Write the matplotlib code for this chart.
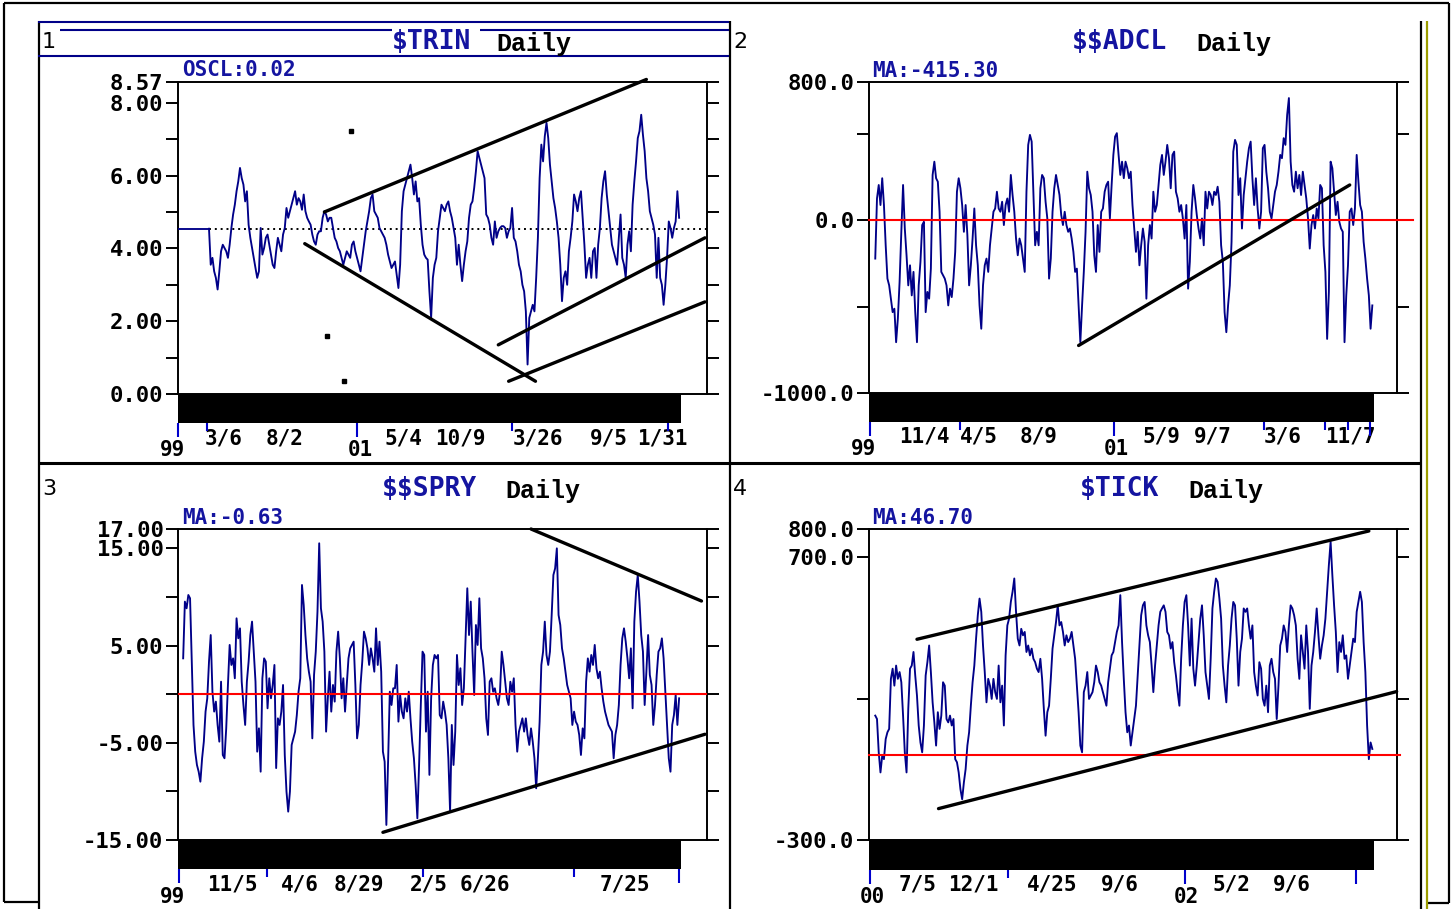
import numpy as np
import matplotlib
matplotlib.use("Agg")
import matplotlib.pyplot as plt

W, H = 1452, 909
NAVY = "#000088"
TXTBLUE = "#1414a0"
TICKBLUE = "#0000cc"
MONO = "DejaVu Sans Mono"

# ---------------- data (day index) ----------------
# Panel 1: $TRIN (sampled every 5 trading days, first sample at day 90)
trin_start, trin_step = 90, 5
trin_values = [
    4.54, 3.55, 3.74, 3.37, 3.19, 2.87, 3.37, 3.92, 4.10, 4.01, 3.92, 3.74, 4.10, 4.56, 4.93, 5.20,
    5.57, 5.84, 6.21, 5.93, 5.75, 5.29, 5.57, 4.65, 4.29, 4.01, 3.74, 3.46, 3.19, 3.37, 4.56, 3.83,
    4.01, 4.29, 4.38, 4.10, 3.83, 3.55, 3.46, 3.92, 4.29, 4.10, 3.92, 4.38, 4.56, 5.11, 4.84, 5.02,
    5.20, 5.38, 5.57, 5.20, 5.38, 5.29, 5.06, 5.48, 5.02, 4.84, 4.74, 4.65, 4.38, 4.19, 4.10, 4.38,
    4.47, 4.47, 4.84, 5.02, 4.93, 4.74, 4.84, 4.84, 4.56, 4.29, 4.19, 4.01, 3.92, 3.74, 3.55, 3.74,
    3.92, 3.83, 3.74, 4.10, 4.19, 3.92, 3.74, 3.55, 3.37, 3.74, 4.10, 4.47, 4.74, 5.02, 5.38, 5.48,
    5.02, 4.93, 4.84, 4.56, 4.47, 4.38, 4.29, 4.10, 3.83, 3.64, 3.46, 3.55, 3.64, 3.28, 2.91, 3.55,
    5.02, 5.57, 5.75, 5.93, 6.12, 6.30, 5.93, 5.48, 5.84, 5.29, 5.38, 4.65, 4.10, 3.83, 3.74, 3.69,
    2.82, 2.09, 3.19, 3.55, 3.74, 4.47, 4.84, 5.20, 5.11, 5.02, 5.20, 5.29, 5.02, 4.84, 4.56, 4.29,
    3.55, 4.10, 3.55, 3.10, 3.55, 3.92, 4.19, 4.84, 5.20, 5.29, 5.66, 6.12, 6.67, 6.48, 6.30, 6.12,
    5.93, 4.93, 4.84, 4.65, 4.29, 4.10, 4.74, 4.29, 4.47, 4.56, 4.61, 4.61, 4.56, 4.29, 4.47, 4.56,
    5.11, 4.29, 4.19, 3.92, 3.55, 3.37, 3.00, 2.82, 2.27, 0.81, 2.09, 2.27, 2.45, 2.27, 3.19, 4.29,
    5.93, 6.85, 6.39, 7.08, 7.45, 7.03, 6.30, 5.84, 5.38, 5.11, 4.74, 4.29, 3.55, 2.55, 3.19, 3.37,
    3.00, 3.92, 4.29, 4.74, 5.48, 5.29, 5.02, 5.38, 5.57, 4.84, 4.10, 3.19, 3.55, 3.74, 3.19, 3.92,
    4.01, 3.19, 4.10, 4.56, 5.38, 5.84, 6.12, 5.48, 5.02, 4.56, 4.10, 3.92, 3.74, 3.55, 4.29, 4.93,
    3.74, 3.55, 3.19, 4.10, 4.47, 3.92, 5.20, 5.84, 6.39, 7.03, 7.22, 7.67, 7.12, 6.67, 5.93, 5.57,
    5.02, 4.84, 4.65, 4.38, 3.19, 4.29, 3.19, 3.00, 2.45, 3.00, 3.74, 4.74, 4.56, 4.29, 4.56, 4.74,
    5.57, 4.84,
]
trin_average = 4.54
trin_trend_x = [[425, 1360], [368, 1038], [960, 1530], [930, 1530]]
trin_trend_y = [[5.00, 8.64], [4.13, 0.35], [0.35, 2.53], [1.35, 4.29]]
trin_dots_x = [503, 433, 483]
trin_dots_y = [7.23, 1.60, 0.37]

# Panel 2: $$ADCL
adcl_start, adcl_step = 18, 5
adcl_values = [
    -222, 126, 204, 88, 243, 88, -145, -338, -377, -454, -532, -512, -706, -570, -357, -67,
    204, -48, -203, -377, -261, -435, -299, -532, -706, -377, -241, -28, -9, -532, -415, -454,
    -280, 262, 339, 243, 223, 49, -299, -319, -338, -377, -493, -396, -445, -338, -183, 165,
    243, 185, 88, -67, 88, -86, -377, -261, -106, 68, -145, -261, -493, -628, -377, -261,
    -222, -299, -145, -48, 49, 68, 165, 68, 49, 107, -28, 88, 126, 49, 262, 146,
    49, -106, -203, -106, -145, -222, -299, 165, 436, 494, 455, 146, -145, -67, -145, 185,
    262, 243, 107, 10, -338, -222, 49, 185, 262, 204, 146, 30, -28, 49, -28, -67,
    -48, -106, -183, -299, -280, -493, -706, -493, -299, -67, 281, 185, 146, 49, -203, -299,
    -28, -183, 49, 68, 165, 204, 223, 10, 204, 378, 484, 504, 378, 262, 339, 243,
    339, 301, 243, 281, 88, -48, -183, -67, -261, -145, -48, -125, -454, -145, -28, -106,
    165, 49, 88, 204, 320, 378, 262, 339, 436, 359, 185, 378, 397, 165, 126, 49,
    88, 10, -106, 88, -396, -241, 49, 204, 126, 30, -48, -106, 10, -145, 165, 68,
    165, 146, 88, 165, 146, 194, 107, -145, -241, -532, -648, -493, -377, -125, 397, 465,
    436, 146, 243, -48, 146, 243, 339, 417, 455, 243, 88, 243, 68, -48, 49, 417,
    436, 281, 185, 49, 10, 88, 165, 204, 281, 378, 359, 475, 436, 610, 707, 339,
    204, 165, 281, 185, 262, 146, 281, 204, 126, 10, -164, -28, 30, -48, 68, 10,
    204, 185, -145, -299, -687, -415, 339, 301, 165, 30, 107, -9, -48, -67, -706, -435,
    -261, 49, 68, -28, 68, 378, 223, 88, 49, -125, -222, -338, -435, -628, -493,
]
adcl_trend_x = [[603, 1383]]
adcl_trend_y = [[-725, 204]]

# Panel 3: $$SPRY
spry_start, spry_step = 15, 5
spry_values = [
    3.69, 9.53, 8.84, 10.21, 9.87, 3.35, -3.16, -5.91, -7.28, -7.97, -9.00, -6.59, -4.88, -1.79, -0.42, 3.35,
    6.09, 0.26, -1.79, -0.76, -3.16, -4.88, 1.29, -6.25, -6.59, -3.51, 0.95, 5.07, 3.01, 3.69, 1.64, 7.81,
    5.75, 6.78, 1.29, -1.11, -3.16, 1.29, 3.35, 6.09, 7.47, 4.38, 1.29, -5.91, -3.51, -7.97, 1.64, 3.69,
    3.35, -1.45, 1.64, -0.42, 0.95, 3.01, -7.60, -2.48, -3.16, -1.79, 0.95, -6.25, -10.02, -12.08, -10.02, -5.22,
    -4.54, -3.85, -2.14, 0.26, 1.64, 11.24, 9.18, 6.09, 3.69, 2.32, 1.29, -4.54, 1.98, 4.38, 8.50, 15.53,
    8.84, 7.47, 4.38, -3.85, -0.42, 2.32, -1.79, 0.95, -0.76, 4.38, 6.44, 3.69, -0.42, 1.64, -1.79, 0.95,
    3.69, 4.72, 5.07, 5.41, 0.95, -4.54, -3.16, 0.95, 3.35, 6.44, 5.75, 4.72, 3.01, 4.72, 3.69, 2.32,
    6.78, 3.01, 5.41, 2.32, -5.91, -6.94, -13.45, -6.94, 0.26, -1.11, 0.61, 0.61, 3.01, -2.82, -0.08, -1.79,
    -2.48, -0.42, -1.79, 0.26, -2.48, -4.88, -6.59, -9.34, -12.77, -7.28, -1.11, 4.38, 4.04, -3.85, 0.26, -8.30,
    -0.42, 3.01, 4.04, 3.69, 4.04, -2.14, -2.48, -0.76, -1.79, -3.16, -6.59, -12.08, -3.16, -7.28, -3.85, 4.04,
    0.95, 2.67, -1.11, 0.61, 5.75, 10.90, 6.09, 9.53, 4.38, -0.08, 7.12, 5.07, 9.87, 4.72, 3.69, 1.64,
    -2.48, -4.19, 1.29, 1.64, 0.26, 0.61, -0.42, -1.11, 0.26, 4.38, 3.01, 1.29, -0.42, -1.11, 1.29, 0.26,
    1.64, -3.16, -5.91, -3.85, -3.16, -2.48, -3.85, -2.48, -4.19, -5.22, -3.51, -4.88, -6.59, -9.68, -6.59, -2.82,
    3.01, 4.38, 7.47, 4.04, 3.01, 4.38, 8.15, 12.27, 12.95, 15.01, 8.15, 7.12, 4.72, 3.69, 2.32, 0.95,
    0.26, -0.42, -3.16, -1.79, -2.82, -3.16, -4.19, -6.25, -3.51, -4.54, 1.29, 3.69, 2.32, 4.04, 3.01, 5.07,
    2.67, 1.64, 2.32, 0.61, -0.76, -1.79, -2.48, -3.16, -3.51, -3.85, -6.59, -4.19, -3.16, -1.11, 3.01, 5.75,
    6.78, 5.41, 3.69, 1.64, 4.72, -1.45, 7.47, 10.55, 12.27, 9.53, 6.09, 4.38, -1.11, 2.32, 6.09, 1.98,
    0.95, -3.16, -1.11, 1.98, 4.38, 4.72, 5.75, 3.69, 0.26, -3.16, -6.59, -7.97, -3.16, -2.14, -0.08, -3.16,
    -0.42,
]
spry_trend_x = [[1025, 1520], [595, 1530]]
spry_trend_y = [[17.0, 9.59], [-14.21, -4.12]]

# Panel 4: $TICK
tick_start, tick_step = 18, 5
tick_values = [
    140, 128, 10, -61, -2, -14, 57, 81, 93, 270, 306, 246, 317, 270, 294, 258,
    140, 10, -61, 164, 306, 317, 365, 282, 211, 105, 45, 10, 105, 282, 329, 388,
    294, 187, 116, 34, 152, 93, 140, 258, 246, 128, 116, 140, 105, 128, -14, -25,
    -61, -120, -156, -96, -49, 34, 81, 175, 258, 317, 412, 495, 554, 507, 388, 294,
    187, 270, 246, 199, 270, 223, 199, 317, 187, 246, 105, 353, 459, 483, 542, 578,
    625, 507, 412, 388, 447, 424, 436, 365, 388, 353, 377, 341, 329, 306, 294, 341,
    270, 164, 69, 152, 175, 270, 377, 424, 471, 530, 459, 471, 436, 388, 424, 400,
    412, 436, 388, 341, 246, 152, 34, 10, 223, 246, 294, 199, 211, 223, 258, 317,
    294, 258, 246, 223, 199, 175, 258, 306, 353, 365, 400, 436, 459, 566, 400, 270,
    152, 81, 105, 34, 81, 128, 175, 282, 388, 495, 530, 542, 459, 424, 400, 317,
    223, 317, 388, 459, 507, 519, 530, 507, 436, 424, 377, 400, 329, 282, 223, 175,
    341, 459, 542, 566, 459, 317, 483, 306, 246, 317, 400, 483, 530, 424, 294, 246,
    199, 341, 519, 578, 625, 613, 554, 483, 317, 246, 187, 317, 388, 483, 542, 530,
    412, 246, 365, 412, 519, 507, 519, 459, 412, 459, 294, 246, 211, 329, 306, 199,
    175, 246, 152, 317, 341, 294, 270, 128, 246, 388, 412, 459, 436, 365, 459, 530,
    519, 495, 459, 341, 270, 424, 365, 306, 459, 365, 164, 317, 365, 436, 519, 424,
    341, 388, 424, 483, 578, 673, 755, 637, 530, 436, 294, 400, 365, 424, 341, 353,
    270, 317, 365, 412, 400, 507, 542, 578, 542, 400, 294, 105, -14, 45, 22,
]
tick_trend_x = [[138, 1438], [200, 1518]]
tick_trend_y = [[410, 793], [-189, 225]]

# axis labels / ticks
trin_major = [0, 2, 4, 6, 8, 8.57]
trin_major_labels = ["0.00", "2.00", "4.00", "6.00", "8.00", "8.57"]
trin_minor = [1, 3, 5, 7]
adcl_major = [-1000, 0, 800]
adcl_major_labels = ["-1000.0", "0.0", "800.0"]
adcl_minor = [-500, 500]
spry_major = [-15, -5, 5, 15, 17]
spry_major_labels = ["-15.00", "-5.00", "5.00", "15.00", "17.00"]
spry_minor = [-10, 0, 10]
tick_major = [-300, 700, 800]
tick_major_labels = ["-300.0", "700.0", "800.0"]
tick_minor = [200]

# date ticks (day index) on the band under each panel
trin_year_ticks, trin_month_ticks = [0, 520], [84, 971, 1423]
adcl_year_ticks, adcl_month_ticks = [3, 706, 1441], [262, 1136, 1312, 1378]
spry_year_ticks, spry_month_ticks = [3, 1455], [258, 711, 1150]
tick_year_ticks, tick_month_ticks = [3, 909, 1401], [400]

trin_dates_top = ["3/6", "8/2", "5/4", "10/9", "3/26", "9/5", "1/31"]
trin_dates_low = ["99", "01"]
adcl_dates_top = ["11/4", "4/5", "8/9", "5/9", "9/7", "3/6", "11/7"]
adcl_dates_low = ["99", "01"]
spry_dates_top = ["11/5", "4/6", "8/29", "2/5", "6/26", "7/25"]
spry_dates_low = ["99"]
tick_dates_top = ["7/5", "12/1", "4/25", "9/6", "5/2", "9/6"]
tick_dates_low = ["00", "02"]

# ---------------- figure ----------------
plt.rcParams["text.usetex"] = False
fig = plt.figure(figsize=(W / 100, H / 100), dpi=100)
fig.patch.set_facecolor("white")
bg = fig.add_axes([0, 0, 1, 1])
bg.set_xlim(0, W)
bg.set_ylim(H, 0)
bg.axis("off")
bg.set_zorder(0)


def px_axes(x0, y0, x1, y1):
    return fig.add_axes([x0 / W, 1 - y1 / H, (x1 - x0) / W, (y1 - y0) / H])


def hline(y, x0, x1, color="black", lw=1.5):
    bg.plot([x0, x1], [y, y], color=color, lw=lw, solid_capstyle="butt")


def vline(x, y0, y1, color="black", lw=1.5):
    bg.plot([x, x], [y0, y1], color=color, lw=lw, solid_capstyle="butt")


# outer window border
vline(4, 3, 902, lw=1.6)
hline(3, 4, 1449, lw=1.6)
vline(1449, 3, 903, lw=1.6)
hline(902, 4, 38, lw=1.6)
hline(903, 1427, 1449, lw=1.6)
# chart window frame
vline(38.5, 21, 909, lw=1.6)
vline(729.5, 21, 909, lw=1.6)
vline(1420.5, 21, 909, lw=1.6)
vline(1427, 21, 909, color="#9c9c00", lw=1.6)
hline(463, 38, 1421, lw=2.2)
# selected title bar of panel 1
hline(22, 38, 729, color=NAVY, lw=1.5)
hline(30, 60, 392, color=NAVY, lw=1.5)
hline(30, 480, 729, color=NAVY, lw=1.5)
hline(56, 38, 729, color=NAVY, lw=1.5)


def panel(box, band_bottom, xmax, start, step, vals, ylim, major, major_labels, minor,
          year_ticks, month_ticks):
    days = start + step * np.arange(len(vals))
    ax = px_axes(*box)
    ax.set_facecolor("none")
    ax.set_xlim(0, xmax)
    ax.set_ylim(*ylim)
    ax.plot(days, vals, color=NAVY, lw=1.35, zorder=3)
    ax.set_xticks([])
    ax.set_yticks(major, major_labels, fontfamily=MONO, fontweight="bold", fontsize=16)
    ax.set_yticks(minor, minor=True)
    ax.tick_params(axis="y", which="both", direction="out", length=8.5, width=1.4,
                   left=True, right=True, labelleft=True, pad=2, color="black")
    for s in ax.spines.values():
        s.set_linewidth(1.4)
    band = px_axes(box[0], box[3], box[2], band_bottom)
    band.set_facecolor("none")
    band.set_xlim(0, xmax)
    band.set_ylim(0, 1)
    band.fill_between([0, days[-1] + 6], 0, 1, color="black", lw=0)
    band.set_yticks([])
    band.set_xticks(year_ticks)
    band.set_xticks(month_ticks, minor=True)
    band.tick_params(axis="x", which="major", length=10, width=1.5, color=TICKBLUE,
                     labelbottom=False, direction="out")
    band.tick_params(axis="x", which="minor", length=6, width=1.5, color=TICKBLUE,
                     direction="out")
    for s in band.spines.values():
        s.set_visible(False)
    return ax, days


def trends(ax, xs, ys):
    for x, y in zip(xs, ys):
        ax.plot(x, y, color="black", lw=2.4, solid_capstyle="round", clip_on=False, zorder=6)


# Panel 1
ax1, d1 = panel((178, 82, 707, 394), 423, 1536, trin_start, trin_step, trin_values, (0, 8.57),
                trin_major, trin_major_labels, trin_minor, trin_year_ticks, trin_month_ticks)
ax1.hlines(trin_values[0], 0, d1[0], colors=NAVY, lw=1.35, zorder=3)
ax1.hlines(trin_average, d1[0], 1536, colors="black", linestyles=(0, (1, 2)), lw=1.4, zorder=2)
ax1.plot(trin_dots_x, trin_dots_y, "s", ms=2.5, color="black", zorder=4)
trends(ax1, trin_trend_x, trin_trend_y)

# Panel 2
ax2, d2 = panel((869, 82, 1397, 393), 422, 1519, adcl_start, adcl_step, adcl_values, (-1000, 800),
                adcl_major, adcl_major_labels, adcl_minor, adcl_year_ticks, adcl_month_ticks)
ax2.axhline(0, xmin=0, xmax=1.03, color="#ff0000", lw=1.5, clip_on=False, zorder=4)
trends(ax2, adcl_trend_x, adcl_trend_y)

# Panel 3
ax3, d3 = panel((178, 529, 707, 840), 869, 1536, spry_start, spry_step, spry_values, (-15, 17),
                spry_major, spry_major_labels, spry_minor, spry_year_ticks, spry_month_ticks)
ax3.axhline(0, color="#ff0000", lw=1.5, zorder=4)
trends(ax3, spry_trend_x, spry_trend_y)

# Panel 4
ax4, d4 = panel((869, 529, 1397, 840), 870, 1519, tick_start, tick_step, tick_values, (-300, 800),
                tick_major, tick_major_labels, tick_minor, tick_year_ticks, tick_month_ticks)
ax4.axhline(0, xmin=0, xmax=1.005, color="#ff0000", lw=1.5, clip_on=False, zorder=4)
trends(ax4, tick_trend_x, tick_trend_y)

# ---------------- text ----------------
def t(x, y, s, size=16, color="black", family=MONO, weight="bold", ha="left"):
    bg.text(x, y, s, fontsize=size, color=color, family=family, fontweight=weight,
            ha=ha, va="center", parse_math=False)


# panel numbers
for x, y, s in [(42, 42, "1"), (733, 42, "2"), (42, 489, "3"), (733, 489, "4")]:
    t(x, y, s, size=16, family="DejaVu Sans", weight="normal")

# titles
for x, y, s, xd in [(392, 42, "$TRIN", 496), (1072, 42, "$$ADCL", 1196),
                    (382, 489, "$$SPRY", 505), (1080, 489, "$TICK", 1188)]:
    t(x, y, s, size=19, color=TXTBLUE)
    t(xd, y + 2, "Daily", size=18, family="Liberation Mono")

# indicator values
t(182, 70, "OSCL:0.02", size=15, color=TXTBLUE)
t(872, 71, "MA:-415.30", size=15, color=TXTBLUE)
t(182, 518, "MA:-0.63", size=15, color=TXTBLUE)
t(872, 518, "MA:46.70", size=15, color=TXTBLUE)


# date labels
def dates(top, top_x, y_top, low, low_x, y_low):
    for s, x in zip(top, top_x):
        t(x, y_top, s, size=15)
    for s, x in zip(low, low_x):
        t(x, y_low, s, size=15)


dates(trin_dates_top, [205, 266, 384, 435, 513, 590, 637], 438, trin_dates_low, [160, 348], 450)
dates(adcl_dates_top, [899, 960, 1020, 1143, 1194, 1264, 1325], 437, adcl_dates_low, [851, 1104], 449)
dates(spry_dates_top, [207, 281, 334, 410, 460, 600], 885, spry_dates_low, [160], 897)
dates(tick_dates_top, [899, 948, 1027, 1101, 1213, 1273], 885, tick_dates_low, [860, 1174], 897)

fig.savefig("out.png", dpi=100, facecolor="white")
